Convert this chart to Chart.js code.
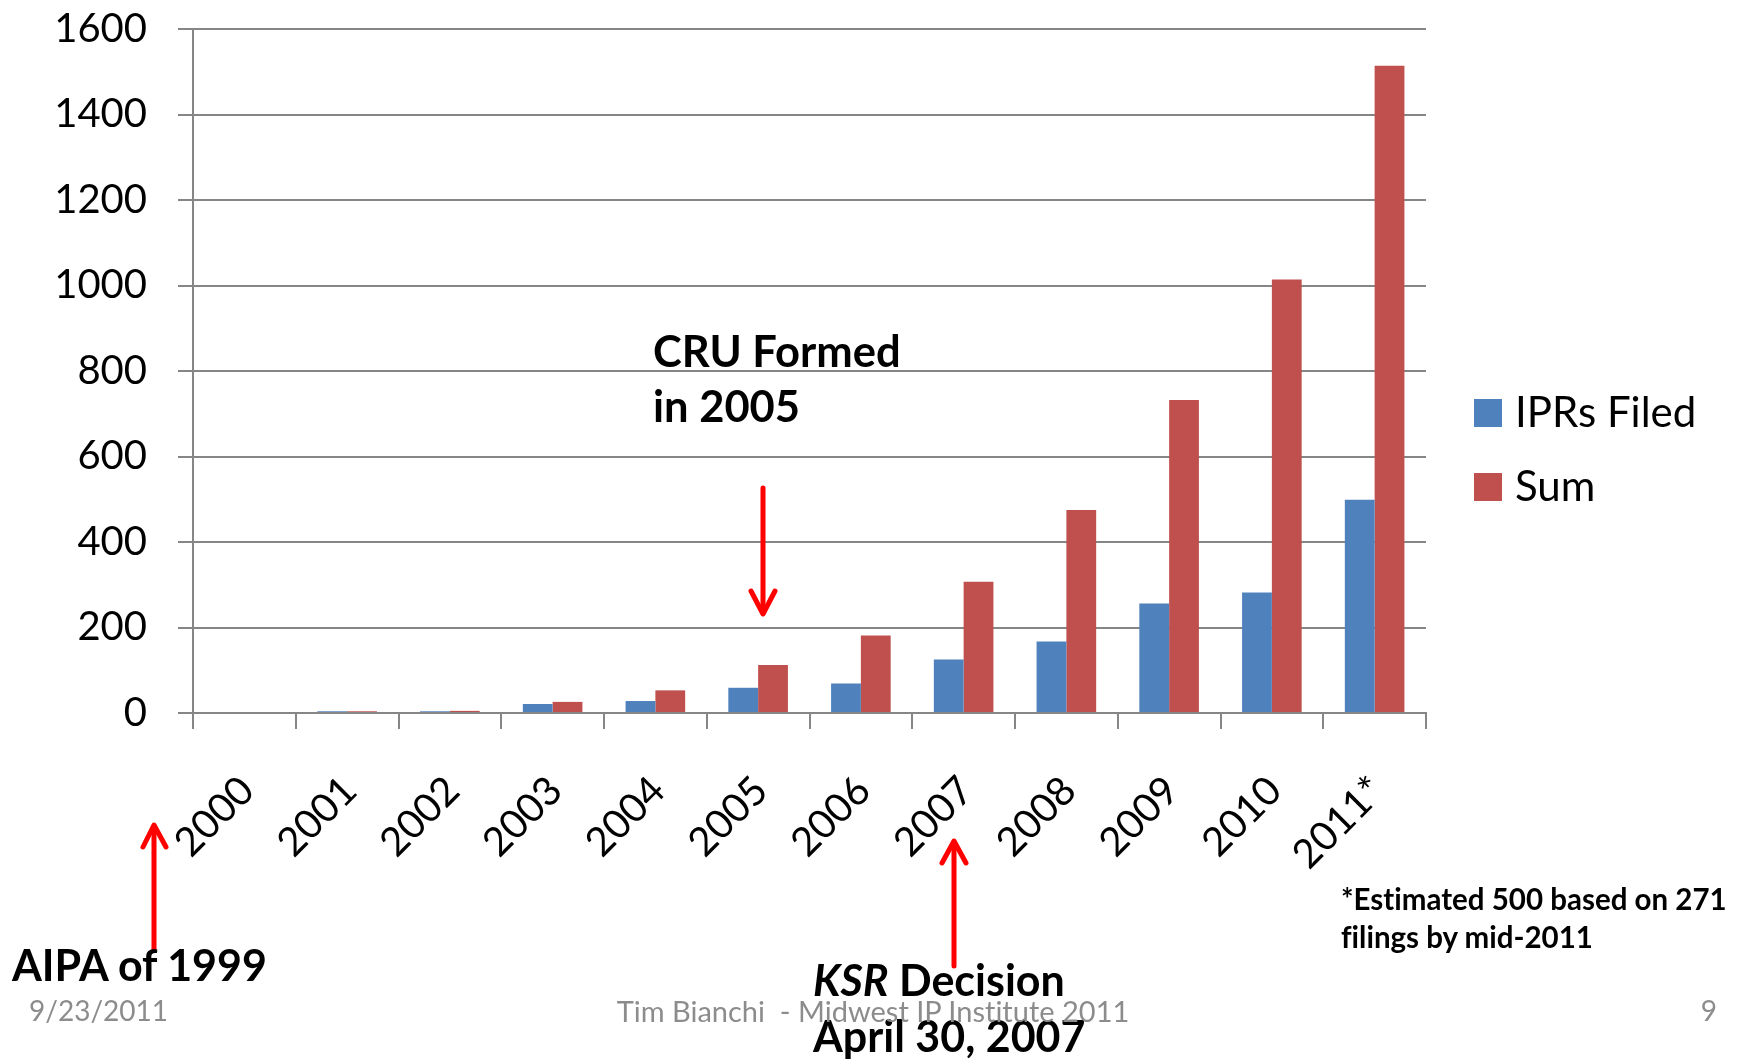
<!DOCTYPE html>
<html>
<head>
<meta charset="utf-8">
<title>IPRs Filed</title>
<script src="https://cdn.jsdelivr.net/npm/chart.js@4.4.1/dist/chart.umd.min.js"></script>
<style>
  body { margin: 0; background: #fff; font-family: Lato, sans-serif; font-variant-ligatures: none; }
  #wrap { position: relative; width: 1745px; height: 1063px; overflow: hidden; }
  #chart { position: absolute; left: 0; top: 0; }
  #arrows { position: absolute; left: 0; top: 0; }
  .note { position: absolute; color: #000; font-weight: 700; white-space: pre; }
  .foot { position: absolute; color: #8c8c8c; font-size: 28px; line-height: 1.2; white-space: pre; top: 994px; }
  .legend-item { position: absolute; left: 1474px; height: 50px; }
  .legend-item span.box { position: absolute; left: 0; top: 0; width: 28px; height: 28px; }
  .legend-item span.txt { position: absolute; left: 41px; top: -13.5px; font-size: 42px; line-height: 1.2; white-space: pre; }
</style>
</head>
<body>
<div id="wrap">
  <canvas id="chart" width="1745" height="1063"></canvas>

  <svg id="arrows" width="1745" height="1063">
    <g stroke="#ff0000" stroke-width="5" stroke-linecap="round" stroke-linejoin="round" fill="none">
      <line x1="763" y1="488" x2="763" y2="612"/>
      <polyline points="751,591 763,614 775,591"/>
      <line x1="154" y1="950" x2="154" y2="826"/>
      <polyline points="143,847 154,825 166,847"/>
      <line x1="954" y1="966" x2="954" y2="842"/>
      <polyline points="942,863 954,841 966,863"/>
    </g>
  </svg>

  <div class="note" style="left:653px; top:322.6px; font-size:43.5px; line-height:55px;">CRU Formed
in 2005</div>
  <div class="note" style="left:12px; top:939.3px; font-size:43px; line-height:1.2;">AIPA of 1999</div>
  <div class="note" style="left:813px; top:952.1px; font-size:43px; line-height:56px;"><i>KSR</i> Decision
April 30, 2007</div>
  <div class="note" style="left:1341px; top:879.6px; font-size:29.5px; line-height:38px;">*Estimated 500 based on 271
filings by mid-2011</div>

  <div class="foot" style="left:29px;">9/23/2011</div>
  <div class="foot" style="left:873px; transform:translateX(-50%); font-size:29px;">Tim Bianchi  - Midwest IP Institute 2011</div>
  <div class="foot" style="right:28px;">9</div>

  <div id="legend"></div>
</div>

<script>
// Chart values
const years = ["2000", "2001", "2002", "2003", "2004", "2005", "2006", "2007", "2008", "2009", "2010", "2011*"];
const iprsFiled = [0, 4, 4, 21, 28, 59, 69, 125, 167, 256, 282, 499];
const iprsSum = [0, 4, 5, 26, 53, 112, 181, 307, 475, 732, 1014, 1514];
const seriesNames = ["IPRs Filed", "Sum"];
const seriesColors = ["#4f81bd", "#c0504d"];
const yMax = 1600;
const yStep = 200;

const axisGray = "#868686";
const ctx = document.getElementById("chart").getContext("2d");

const chart = new Chart(ctx, {
    type: "bar",
    data: {
        labels: years,
        datasets: [
            { label: seriesNames[0], data: iprsFiled, backgroundColor: seriesColors[0] },
            { label: seriesNames[1], data: iprsSum, backgroundColor: seriesColors[1] }
        ]
    },
    options: {
        responsive: false,
        devicePixelRatio: 1,
        animation: false,
        datasets: {
            bar: { categoryPercentage: 0.58, barPercentage: 1.0 }
        },
        layout: {
            padding: { left: 0, top: 29, right: 319, bottom: 150 }
        },
        plugins: {
            legend: { display: false },
            tooltip: { enabled: false }
        },
        scales: {
            x: {
                afterFit: scale => { scale.height = 200; },
                grid: {
                    offset: true,
                    drawOnChartArea: false,
                    drawTicks: true,
                    tickLength: 16,
                    color: axisGray,
                    lineWidth: 2
                },
                border: { color: axisGray, width: 2 },
                ticks: {
                    autoSkip: false,
                    minRotation: 45,
                    maxRotation: 45,
                    padding: 38,
                    labelOffset: 3,
                    color: "#000",
                    font: { family: "Lato", size: 40 }
                }
            },
            y: {
                min: 0,
                max: yMax,
                afterFit: scale => {
                    scale.width = 193;
                    // label padding should not push the plot down
                    scale.paddingTop = 0;
                    scale.paddingBottom = 0;
                },
                grid: {
                    color: axisGray,
                    lineWidth: 2,
                    tickLength: 15
                },
                border: { color: axisGray, width: 2 },
                ticks: {
                    stepSize: yStep,
                    padding: 31,
                    color: "#000",
                    font: { family: "Lato", size: 40 },
                    callback: v => String(v)
                }
            }
        }
    }
});

// Legend built from the datasets
const legendEl = document.getElementById("legend");
chart.data.datasets.forEach((ds, i) => {
    const item = document.createElement("div");
    item.className = "legend-item";
    item.style.top = (399 + i * 74) + "px";
    item.innerHTML = `<span class="box" style="background:${ds.backgroundColor}"></span><span class="txt">${ds.label}</span>`;
    legendEl.appendChild(item);
});
</script>
</body>
</html>
